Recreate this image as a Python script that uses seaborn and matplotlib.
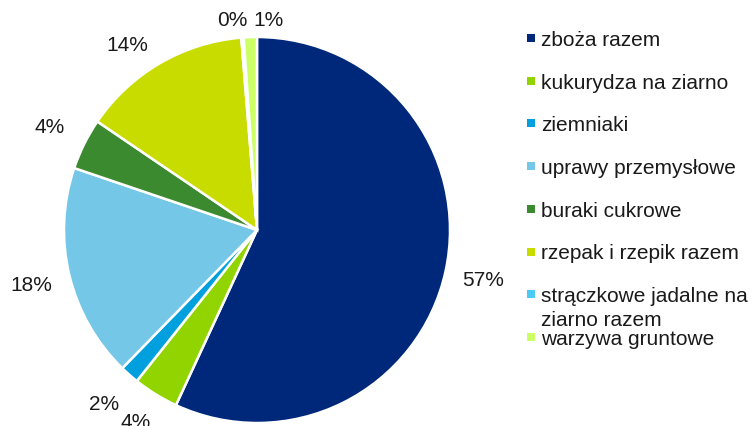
import matplotlib
matplotlib.use("Agg")
import matplotlib.pyplot as plt
from matplotlib.patches import Rectangle
import seaborn as sns

# --- DANE ---
kategorie = ["zboża razem", "kukurydza na ziarno", "ziemniaki", "uprawy przemysłowe",
             "buraki cukrowe", "rzepak i rzepik razem",
             "strączkowe jadalne na\nziarno razem", "warzywa gruntowe"]
udzialy = [56.9, 3.8, 1.6, 17.9, 4.3, 14.2, 0.2, 1.1]
kolory = ["#00287A", "#92D400", "#00A0DF", "#74C7E6",
          "#3B8A30", "#C9DC00", "#4CC9F5", "#CCFF66"]

sns.set_theme(style="white")
plt.rcParams['font.family'] = ['Liberation Sans', 'DejaVu Sans']

W, H = 756, 427
fig = plt.figure(figsize=(W / 100, H / 100), dpi=100)

# pie area: centre (257, 231) px, radius 193 px
cx, cy, r = 257, 231, 193
ax = fig.add_axes([(cx - r) / W, (H - cy - r) / H, 2 * r / W, 2 * r / H])
wedges, texts, autotexts = ax.pie(
    udzialy, colors=kolory, startangle=90, counterclock=False,
    autopct='%.0f%%', pctdistance=1.2, radius=1,
    wedgeprops=dict(edgecolor='white', linewidth=1.8),
    textprops=dict(fontsize=15, color='#1a1a1a'))
ax.set_xlim(-1, 1)
ax.set_ylim(-1, 1)
ax.set_aspect('equal')
ax.axis('off')
for t in autotexts:
    t.set_clip_on(False)

# przesunięcie małych etykiet (jak w oryginale)
autotexts[6].set_position((-0.13, 1.09))
autotexts[7].set_position((0.06, 1.09))
autotexts[5].set_position((-0.67, 0.96))
x1, y1 = autotexts[1].get_position()
autotexts[1].set_position((x1, y1 + 0.03))

# --- LEGENDA (ręczna) ---
y0, dy = 39, 42.7
for i, (lab, col) in enumerate(zip(kategorie, kolory)):
    y = y0 + i * dy
    fig.patches.append(Rectangle((527 / W, 1 - (y + 4) / H), 8 / W, 8 / H,
                                 transform=fig.transFigure, facecolor=col,
                                 edgecolor='none'))
    fig.text(541 / W, 1 - (y - 8) / H, lab, fontsize=15, color='#1a1a1a',
             va='top', ha='left', linespacing=1.3)

fig.savefig("out.png", dpi=100)
